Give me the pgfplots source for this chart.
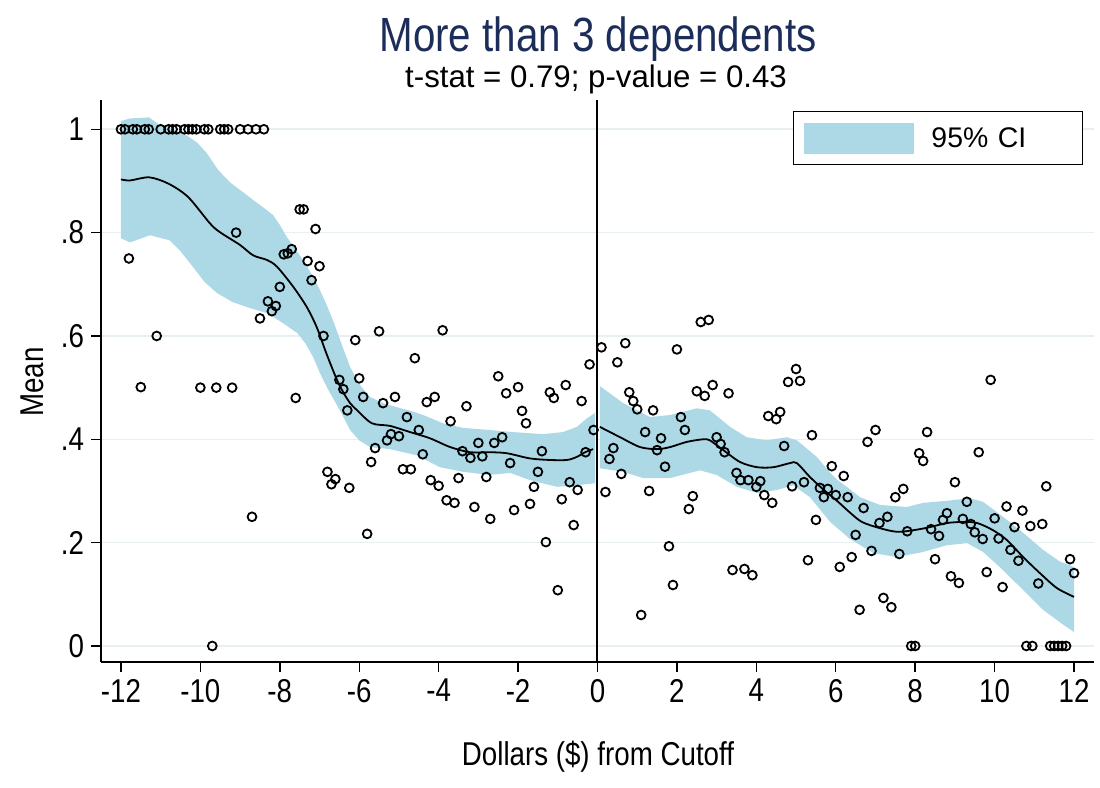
\documentclass[border=0pt]{standalone}
\usepackage{pgfplots}
\pgfplotsset{compat=1.18}
\usepackage{fontspec}
\setmainfont{Liberation Sans}[FakeStretch=0.84]
\newfontfamily\widesans{Liberation Sans}

\definecolor{ciblue}{RGB}{173,216,230}
\definecolor{titlenavy}{RGB}{28,45,90}
\definecolor{gridc}{RGB}{232,239,242}

\newcommand{\lblfont}{\fontsize{16.5}{19}\selectfont}

\begin{document}
\begin{tikzpicture}
\useasboundingbox (0,0) rectangle (550pt,394pt);

\begin{axis}[
  at={(50.55pt,63pt)}, anchor=south west,
  scale only axis, width=496.4pt, height=281pt,
  xmin=-12.5, xmax=12.5, ymin=-0.031, ymax=1.0567,
  axis x line*=bottom, axis y line*=left,
  axis line style={black, line width=0.9pt},
  xtick={-12,-10,...,12},
  xticklabels={-12,-10,-8,-6,-4,-2,0,2,4,6,8,10,12},
  ytick={0,0.2,0.4,0.6,0.8,1},
  yticklabels={0,.2,.4,.6,.8,1},
  tick align=outside, major tick length=5pt,
  tick style={black, line width=0.7pt},
  ticklabel style={font=\lblfont},
  ymajorgrids, grid style={gridc, line width=0.8pt},
  legend style={at={(rel axis cs:0.989,0.9804)}, anchor=north east,
    draw=black, line width=0.5pt, fill=white,
    inner xsep=5.5pt, inner ysep=5.5pt, column sep=8.5pt,
    nodes={inner sep=0pt, font=\widesans\fontsize{14.2}{17}\selectfont,
      text width=70pt, align=left, text depth=0pt}},
  legend image code/.code={\fill[ciblue] (0pt,-7.75pt) rectangle (55pt,7.75pt);},
]

% confidence band, left of the cutoff: upper bound, then lower bound backwards
\addplot[fill=ciblue, draw=none] coordinates {
 (-12.0,1.016) (-11.77,1.021) (-11.29,1.023) (-11.02,1.008) (-10.70,1.000)
 (-10.34,0.988) (-10.08,0.974) (-9.84,0.954) (-9.55,0.921) (-9.25,0.897)
 (-8.92,0.878) (-8.65,0.862) (-8.42,0.849) (-8.17,0.834) (-8.00,0.815)
 (-7.82,0.791) (-7.62,0.770) (-7.42,0.747) (-7.20,0.720) (-6.99,0.689)
 (-6.82,0.660) (-6.66,0.630) (-6.48,0.592) (-6.23,0.540) (-5.98,0.505)
 (-5.73,0.482) (-5.40,0.470) (-5.05,0.462) (-4.70,0.455) (-4.39,0.447)
 (-3.89,0.431) (-3.38,0.422) (-2.71,0.418) (-2.13,0.414) (-1.37,0.410)
 (-0.87,0.414) (-0.52,0.424) (-0.26,0.441) (-0.06,0.451)
 (-0.06,0.315) (-0.52,0.311) (-1.02,0.308) (-1.70,0.321) (-2.20,0.335)
 (-2.71,0.331) (-3.38,0.337) (-3.97,0.346) (-4.55,0.369) (-5.23,0.381)
 (-5.73,0.385) (-6.00,0.398) (-6.23,0.418) (-6.48,0.455) (-6.81,0.500)
 (-7.00,0.530) (-7.16,0.559) (-7.35,0.585) (-7.55,0.605) (-7.92,0.625)
 (-8.32,0.644) (-8.83,0.656) (-9.20,0.666) (-9.58,0.683) (-9.90,0.705)
 (-10.18,0.733) (-10.50,0.764) (-10.77,0.785) (-11.27,0.795) (-11.77,0.781)
 (-12.0,0.789)
} -- cycle;
\addlegendentry{95\% CI}

% confidence band, right of the cutoff
\addplot[fill=ciblue, draw=none, forget plot] coordinates {
 (0.06,0.503) (0.65,0.470) (1.32,0.443) (1.83,0.447) (2.50,0.460)
 (2.83,0.456) (3.34,0.424) (3.76,0.404) (4.26,0.398) (4.77,0.404)
 (5.02,0.398) (5.52,0.366) (5.86,0.335) (6.03,0.322) (6.36,0.303)
 (6.61,0.288) (7.11,0.273) (7.79,0.269) (8.20,0.277) (8.80,0.281)
 (9.38,0.286) (9.71,0.279) (10.21,0.250) (10.72,0.219) (11.22,0.186)
 (11.65,0.163) (12.0,0.153)
 (12.0,0.027) (11.73,0.041) (11.22,0.070) (10.72,0.108) (10.21,0.147)
 (9.71,0.182) (9.31,0.199) (8.80,0.195) (8.20,0.182) (7.54,0.172)
 (6.94,0.180) (6.36,0.207) (5.86,0.240) (5.35,0.288) (4.93,0.311)
 (4.52,0.302) (4.02,0.296) (3.51,0.308) (3.0,0.331) (2.58,0.340)
 (1.83,0.325) (1.15,0.325) (0.65,0.337) (0.06,0.344)
} -- cycle;

% cutoff
\addplot[black, line width=1pt, forget plot] coordinates {(0,-0.031) (0,1.0567)};

% local fits
\addplot[black, line width=0.9pt, smooth, forget plot] coordinates {
 (-12.0,0.903) (-11.77,0.901) (-11.29,0.907) (-10.81,0.895) (-10.31,0.869)
 (-9.76,0.818) (-9.51,0.801) (-9.0,0.776) (-8.67,0.756) (-8.32,0.747)
 (-8.07,0.734) (-7.66,0.695) (-7.32,0.656) (-7.07,0.617) (-6.86,0.573)
 (-6.73,0.547) (-6.56,0.515) (-6.41,0.492) (-6.23,0.470) (-6.05,0.456)
 (-5.68,0.431) (-5.23,0.426) (-4.72,0.414) (-4.22,0.402) (-3.71,0.385)
 (-3.21,0.375) (-2.71,0.375) (-2.28,0.373) (-1.70,0.363) (-1.20,0.360)
 (-0.77,0.360) (-0.52,0.366) (-0.31,0.375) (-0.11,0.381)};
\addplot[black, line width=0.9pt, smooth, forget plot] coordinates {
 (0.06,0.424) (0.57,0.404) (1.07,0.385) (1.50,0.381) (1.83,0.385)
 (2.25,0.395) (2.66,0.400) (2.83,0.398) (3.17,0.379) (3.59,0.356)
 (4.02,0.346) (4.43,0.346) (4.85,0.354) (5.02,0.354) (5.35,0.327)
 (5.70,0.302) (6.03,0.281) (6.36,0.258) (6.66,0.240) (7.11,0.228)
 (7.54,0.221) (7.95,0.224) (8.37,0.230) (8.80,0.238) (9.21,0.240)
 (9.56,0.238) (9.96,0.224) (10.31,0.205) (10.72,0.172) (11.14,0.141)
 (11.57,0.112) (12.0,0.095)};

% bin means
\addplot[only marks, mark=o, mark size=2.2pt,
  mark options={black, line width=0.9pt}, forget plot] table {
x y
-12.0 1
-11.9 1
-11.7 1
-11.6 1
-11.4 1
-11.3 1
-11.0 1
-10.8 1
-10.7 1
-10.6 1
-10.4 1
-10.3 1
-10.2 1
-10.1 1
-9.9 1
-9.8 1
-9.5 1
-9.4 1
-9.3 1
-9.0 1
-8.8 1
-8.6 1
-8.4 1
-11.8 0.750
-11.1 0.600
-9.1 0.800
-7.5 0.845
-7.4 0.845
-7.1 0.807
-7.9 0.758
-7.8 0.760
-7.7 0.768
-7.3 0.745
-7.0 0.735
-7.2 0.708
-8.0 0.695
-8.3 0.667
-8.1 0.658
-8.2 0.648
-8.5 0.634
-6.9 0.600
-11.5 0.501
-10.0 0.500
-9.6 0.500
-9.2 0.500
-7.6 0.480
-8.7 0.250
-9.7 0
-6.8 0.337
-6.6 0.323
-6.7 0.313
-6.25 0.306
-6.5 0.515
-6.4 0.497
-6.3 0.456
-6.1 0.592
-5.5 0.609
-3.9 0.611
-6.0 0.518
-5.9 0.482
-4.6 0.557
-5.4 0.470
-5.1 0.482
-4.8 0.443
-4.3 0.472
-4.1 0.482
-3.3 0.464
-3.7 0.435
-5.6 0.383
-5.7 0.356
-5.3 0.398
-5.2 0.410
-5.0 0.406
-4.5 0.418
-4.9 0.342
-4.7 0.342
-4.4 0.371
-5.8 0.217
-4.2 0.321
-4.0 0.310
-3.8 0.282
-3.6 0.277
-3.5 0.325
-3.4 0.377
-3.2 0.364
-3.0 0.393
-2.9 0.367
-3.1 0.269
-2.8 0.327
-2.7 0.246
-2.6 0.393
-2.4 0.404
-2.5 0.522
-2.3 0.489
-2.0 0.501
-1.9 0.455
-1.8 0.431
-2.2 0.354
-2.1 0.263
-1.7 0.275
-1.6 0.308
-1.5 0.337
-1.4 0.377
-1.3 0.201
-1.2 0.491
-1.1 0.480
-1.0 0.108
-0.8 0.505
-0.9 0.284
-0.7 0.317
-0.5 0.302
-0.6 0.234
-0.4 0.474
-0.3 0.375
-0.2 0.545
-0.1 0.418
0.1 0.578
0.2 0.298
0.3 0.362
0.4 0.383
0.5 0.549
0.7 0.586
0.6 0.333
0.8 0.491
0.9 0.474
1.0 0.458
1.1 0.060
1.2 0.414
1.3 0.300
1.4 0.456
1.5 0.379
1.6 0.402
1.7 0.347
1.8 0.193
1.9 0.118
2.0 0.574
2.1 0.443
2.2 0.418
2.3 0.265
2.4 0.290
2.5 0.493
2.7 0.484
2.6 0.627
2.8 0.631
2.9 0.505
3.0 0.404
3.1 0.391
3.2 0.375
3.3 0.489
3.4 0.147
3.5 0.335
3.6 0.321
3.7 0.149
3.9 0.137
3.8 0.321
4.0 0.308
4.1 0.319
4.2 0.292
4.4 0.277
4.3 0.445
4.5 0.439
4.6 0.453
4.8 0.511
5.0 0.536
5.1 0.513
4.7 0.387
4.9 0.309
5.2 0.317
5.3 0.166
5.4 0.408
5.5 0.244
5.6 0.306
5.7 0.288
5.8 0.304
6.0 0.292
5.9 0.348
6.1 0.153
6.2 0.329
6.3 0.288
6.4 0.172
6.6 0.070
6.5 0.215
6.7 0.267
6.8 0.395
7.0 0.418
6.9 0.184
7.1 0.238
7.3 0.250
7.2 0.093
7.4 0.075
7.5 0.288
7.7 0.304
7.6 0.178
7.8 0.222
7.9 0
8.0 0
8.1 0.373
8.2 0.358
8.3 0.414
8.4 0.226
8.6 0.213
8.5 0.168
8.7 0.244
8.8 0.257
8.9 0.135
9.1 0.122
9.0 0.317
9.2 0.246
9.3 0.279
9.4 0.236
9.5 0.220
9.7 0.207
9.6 0.375
9.8 0.143
9.9 0.515
10.0 0.247
10.1 0.208
10.2 0.114
10.3 0.270
10.4 0.186
10.5 0.230
10.6 0.165
10.7 0.262
10.8 0
10.95 0
10.9 0.232
11.1 0.121
11.2 0.236
11.3 0.309
11.4 0
11.5 0
11.6 0
11.7 0
11.8 0
11.9 0.168
12.0 0.141
};
\end{axis}

\node[anchor=base, text=titlenavy, font=\fontsize{24.0}{28}\selectfont] at (299pt,368.2pt) {More than 3 dependents};
\node[anchor=base, font=\widesans\fontsize{15.6}{18}\selectfont] at (298pt,350pt) {t-stat = 0.79; p-value = 0.43};
\node[anchor=base, font=\lblfont] at (299pt,11pt) {Dollars (\$) from Cutoff};
\node[rotate=90, font=\lblfont] at (16pt,203pt) {Mean};
\end{tikzpicture}
\end{document}
